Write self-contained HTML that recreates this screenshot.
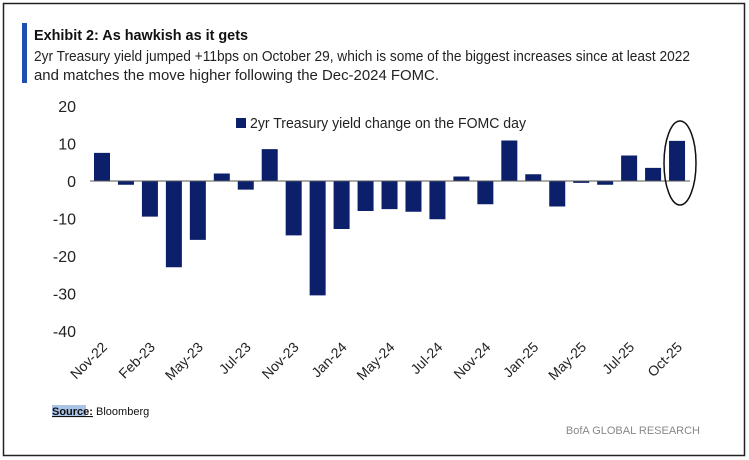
<!DOCTYPE html>
<html><head><meta charset="utf-8"><style>
body{margin:0;background:#fff;}
svg{display:block;font-family:"Liberation Sans",sans-serif;}
</style></head><body>
<svg width="749" height="460">
<rect x="3.5" y="3.5" width="741" height="452" fill="#fff" stroke="#222" stroke-width="1.5"/>
<rect x="22" y="23" width="5" height="60" fill="#1f4fb0"/>
<text x="34" y="40" font-size="15" font-weight="bold" fill="#111" textLength="214" lengthAdjust="spacingAndGlyphs">Exhibit 2: As hawkish as it gets</text>
<text x="34" y="61" font-size="15" fill="#222" textLength="656" lengthAdjust="spacingAndGlyphs">2yr Treasury yield jumped +11bps on October 29, which is some of the biggest increases since at least 2022</text>
<text x="34" y="80" font-size="15" fill="#222" textLength="405" lengthAdjust="spacingAndGlyphs">and matches the move higher following the Dec-2024 FOMC.</text>
<g id="plot"></g>
<rect x="236" y="118" width="10" height="10" fill="#0b1f6b"/>
<text x="250" y="128" font-size="15" fill="#222" textLength="276" lengthAdjust="spacingAndGlyphs">2yr Treasury yield change on the FOMC day</text>
<ellipse cx="680" cy="163" rx="16" ry="42" fill="none" stroke="#111" stroke-width="1.5"/>
<rect x="52" y="405" width="34" height="12" fill="#aac4e8"/>
<text x="52" y="415" font-size="11" fill="#111"><tspan font-weight="bold" text-decoration="underline">Source:</tspan> Bloomberg</text>
<text x="700" y="434" font-size="11" fill="#888" text-anchor="end">BofA GLOBAL RESEARCH</text>
</svg>
<script>
const values=[7.5,-1,-9.5,-23,-15.7,2,-2.3,8.5,-14.5,-30.5,-12.8,-8,-7.5,-8.2,-10.2,1.2,-6.2,10.8,1.8,-6.8,-0.5,-1,6.8,3.5,10.7];
const labels=["Nov-22","","Feb-23","","May-23","","Jul-23","","Nov-23","","Jan-24","","May-24","","Jul-24","","Nov-24","","Jan-25","","May-25","","Jul-25","","Oct-25"];
const yTicks=[20,10,0,-10,-20,-30,-40];
const NS="http://www.w3.org/2000/svg";
const g=document.getElementById('plot');
const y=v=>181-v*3.75;
const x=i=>102+i*23.96;
function mk(t,a){const e=document.createElementNS(NS,t);for(const k in a)e.setAttribute(k,a[k]);g.appendChild(e);return e;}
yTicks.forEach(t=>{const e=mk('text',{x:76,y:y(t)+6,'font-size':16,fill:'#222','text-anchor':'end'});e.textContent=t;

});
values.forEach((v,i)=>{const r=mk('rect',{x:x(i)-8,y:Math.min(y(v),y(0)),width:16,height:Math.abs(y(v)-y(0)),fill:'#0b1f6b'});

});
const zl=mk('line',{x1:90,x2:690,y1:y(0),y2:y(0),stroke:'#555','stroke-width':1});


labels.forEach((l,i)=>{if(!l)return;const tx=x(i)+6,ty=348;const e=mk('text',{x:tx,y:ty,'font-size':14,fill:'#222','text-anchor':'end',transform:`rotate(-45 ${tx} ${ty})`});e.textContent=l;

});
</script>
</body></html>
